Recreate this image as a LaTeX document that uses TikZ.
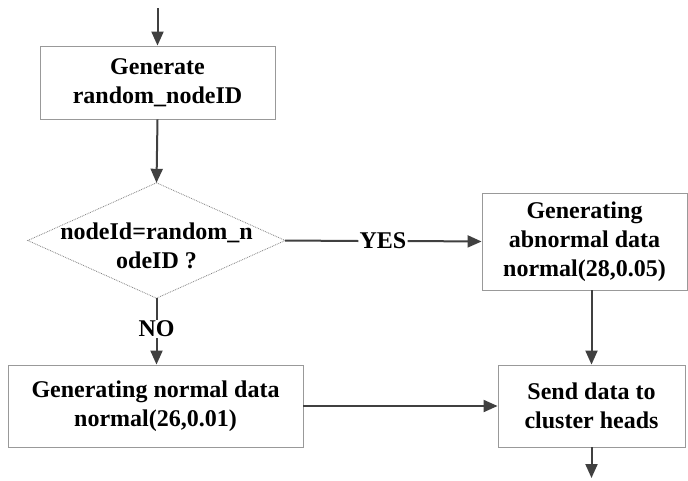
\documentclass[tikz,border=0pt]{standalone}
\usepackage{fontspec}
\setmainfont{Liberation Serif}
\usetikzlibrary{arrows.meta}
\begin{document}
\begin{tikzpicture}[x=1pt,y=-1pt,
  box/.style={draw=black!40, line width=0.9pt, fill=white, inner sep=0pt, align=center,
    font=\fontsize{24}{29}\selectfont\bfseries},
  lbl/.style={font=\fontsize{24}{29}\selectfont\bfseries, align=center, inner sep=1pt},
  conn/.style={draw=black!75, line width=2pt},
  arr/.style={conn, -{Triangle[length=14pt,width=12pt]}}]
\useasboundingbox (0,0) rectangle (688,480);
\fill[white] (0,0) rectangle (688,480);
% nodes
\node[box, minimum width=235pt, minimum height=73pt] (b1) at (157.5,82.5) {Generate\\random\_nodeID};
\node[minimum width=257pt, minimum height=115pt, inner sep=0pt] (d) at (156.5,240.5) {};
\draw[black!50, line width=0.8pt, densely dotted] (d.north) -- (d.east) -- (d.south) -- (d.west) -- cycle;
\node[lbl] (dt) at (156.5,246) {nodeId=random\_n\\odeID ?};
\node[box, minimum width=205pt, minimum height=97pt] (b2) at (584.5,241.5) {Generating\\abnormal data\\normal(28,0.05)};
\node[box, minimum width=295pt, minimum height=82pt] (b4) at (155.5,406) {Generating normal data\\normal(26,0.01)};
\node[box, minimum width=187pt, minimum height=82pt] (b3) at (591.5,406) {Send data to\\cluster heads};
\coordinate (top) at (157.5,8);
\coordinate (bot) at (591.5,478);
\node[lbl, fill=white] (yes) at (383,241) {YES};
\node[lbl, fill=white] (no) at (156.5,329) {NO};
% connectors
\draw[arr] (top) -- (b1.north);
\draw[arr] (b1.south) -- (d.north);
\draw[conn] (d.east) -- (yes.west);
\draw[arr] (yes.east) -- (b2.west);
\draw[conn] (d.south) -- (no.north);
\draw[arr] (no.south) -- (b4.north -| no.south);
\draw[arr] (b2.south -| b3.north) -- (b3.north);
\draw[arr] (b4.east) -- (b3.west);
\draw[arr] (b3.south) -- (bot);
\end{tikzpicture}
\end{document}
